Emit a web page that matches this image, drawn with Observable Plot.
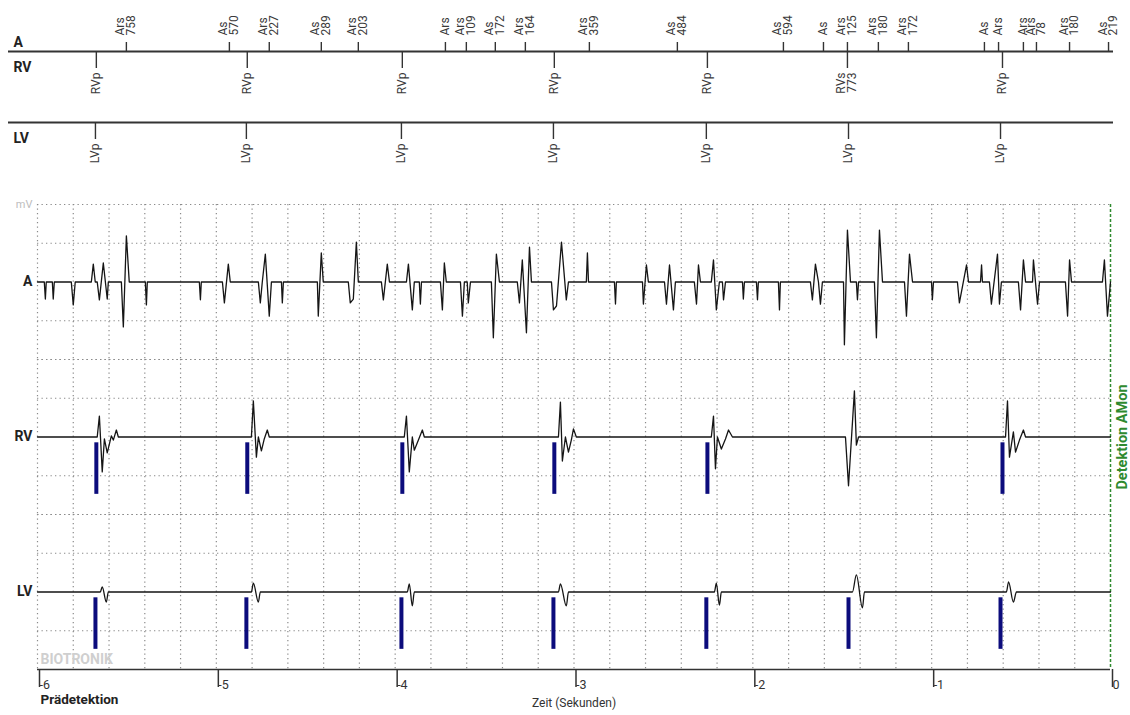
<!DOCTYPE html>
<html>
<head>
<meta charset="utf-8">
<script src="https://cdn.jsdelivr.net/npm/d3@7"></script>
<script src="https://cdn.jsdelivr.net/npm/@observablehq/plot@0.6"></script>
<style>
  html, body { margin: 0; padding: 0; background: #fff; overflow: hidden; }
  #chart { position: relative; width: 1130px; height: 715px; overflow: hidden; background: #fff; }
  #chart > svg { position: absolute; left: 0; display: block; }
</style>
</head>
<body>
<div id="chart"></div>
<script>
// ---------------- DATA ----------------
const channels = ["A", "RV", "LV"];
const timeTicks = [-6, -5, -4, -3, -2, -1, 0];          // Zeit (Sekunden)
const gridLevels = [-2, -1, 1, 2];                        // mV grid rows per channel

// Marker channel: atrial events
const aMarkerTimes = [-5.503, -4.927, -4.704, -4.413, -4.206, -3.719, -3.602, -3.440, -3.272, -2.914, -2.422,
                      -1.829, -1.605, -1.471, -1.298, -1.130, -0.705, -0.626, -0.487, -0.414, -0.229, -0.011];
const aMarkerTypes = ["Ars", "As", "Ars", "As", "Ars", "Ars", "Ars", "As", "Ars", "Ars", "As",
                      "As", "As", "Ars", "Ars", "Ars", "As", "Ars", "Ars", "Ars", "Ars", "As"];
const aMarkerIntervals = [758, 570, 227, 289, 203, null, 109, 172, 164, 359, 484,
                          594, null, 125, 180, 172, null, null, null, 78, 180, 219];

// Marker channel: right ventricle
const rvMarkerTimes = [-5.671, -4.827, -3.960, -3.110, -2.254, -1.471, -0.604];
const rvMarkerTypes = ["RVp", "RVp", "RVp", "RVp", "RVp", "RVs", "RVp"];
const rvMarkerIntervals = [null, null, null, null, null, 773, null];

// Marker channel: left ventricle
const lvMarkerTimes = [-5.676, -4.832, -3.965, -3.115, -2.260, -1.465, -0.615];
const lvMarkerTypes = ["LVp", "LVp", "LVp", "LVp", "LVp", "LVp", "LVp"];
const lvMarkerIntervals = [null, null, null, null, null, null, null];

// IEGM traces: [time (s), amplitude (mV)]
const aTrace = [
  [-6.000,0],
  [-5.962,0],[-5.956,-0.44],[-5.951,0],
  [-5.917,0],[-5.912,-0.44],[-5.906,0],
  [-5.811,0],[-5.800,-0.59],[-5.789,0],
  [-5.699,0],[-5.688,0.46],[-5.677,0],
  [-5.666,0],[-5.654,-0.46],[-5.632,0.49],[-5.610,-0.44],[-5.604,0],
  [-5.531,0],[-5.520,-1.16],[-5.503,1.19],[-5.487,0],
  [-5.397,0],[-5.391,-0.59],[-5.386,0],
  [-5.095,0],[-5.089,-0.46],[-5.084,0],
  [-4.966,0],[-4.955,-0.54],[-4.933,0.46],[-4.922,0],
  [-4.765,0],[-4.754,-0.54],[-4.743,0],[-4.726,0.72],[-4.704,-0.88],[-4.692,0],
  [-4.636,0],[-4.631,-0.54],[-4.625,0],
  [-4.435,0],[-4.430,-0.88],[-4.413,0.75],[-4.402,0],
  [-4.262,0],[-4.251,-0.54],[-4.234,-0.44],[-4.217,1.03],[-4.206,0],
  [-4.077,0],[-4.066,-0.46],[-4.044,0.46],[-4.032,0],
  [-3.937,0],[-3.926,0.46],[-3.904,-0.72],[-3.893,0],
  [-3.865,0],[-3.859,-0.57],[-3.853,0],
  [-3.747,0],[-3.736,-0.72],[-3.725,0.49],[-3.714,0],
  [-3.635,0],[-3.624,-0.88],[-3.613,0],[-3.597,0],[-3.591,-0.54],[-3.579,0],
  [-3.462,0],[-3.451,-1.44],[-3.434,0.72],[-3.417,0],
  [-3.317,0],[-3.305,-0.54],[-3.289,0.57],[-3.266,-1.31],[-3.249,0.90],[-3.238,0],
  [-3.126,0],[-3.115,-0.72],[-3.098,-0.62],[-3.070,1.03],[-3.043,-0.46],[-3.031,0],
  [-2.931,0],[-2.925,0.75],[-2.919,0],
  [-2.774,0],[-2.768,-0.57],[-2.763,0],
  [-2.617,0],[-2.612,-0.57],[-2.595,0.44],[-2.584,0],
  [-2.494,0],[-2.483,-0.57],[-2.466,0.44],[-2.444,-0.72],[-2.433,0],
  [-2.327,0],[-2.315,-0.57],[-2.304,0.44],[-2.293,0],
  [-2.232,0],[-2.220,0.57],[-2.204,-0.72],[-2.187,0],[-2.170,0],[-2.164,-0.46],[-2.153,0],
  [-2.058,0],[-2.053,-0.44],[-2.047,0],
  [-1.980,0],[-1.974,-0.46],[-1.969,0],
  [-1.857,0],[-1.851,-0.72],[-1.846,0],
  [-1.678,0],[-1.667,-0.46],[-1.650,0.46],[-1.633,0],[-1.622,-0.57],[-1.611,0],
  [-1.493,0],[-1.488,-1.62],[-1.471,1.34],[-1.454,0],
  [-1.421,0],[-1.415,-0.46],[-1.409,0],
  [-1.320,0],[-1.309,-1.44],[-1.292,1.34],[-1.275,0],
  [-1.152,0],[-1.141,-0.88],[-1.124,0.72],[-1.107,0],
  [-1.001,0],[-0.996,-0.46],[-0.990,0],
  [-0.856,0],[-0.845,-0.54],[-0.805,0.44],[-0.794,0],
  [-0.727,0],[-0.721,0.44],[-0.716,0],
  [-0.677,0],[-0.666,-0.57],[-0.632,0.72],[-0.621,-0.57],[-0.610,0],
  [-0.515,0],[-0.503,-0.72],[-0.487,0.57],[-0.475,0],
  [-0.436,0],[-0.431,0.57],[-0.408,-0.57],[-0.397,0],
  [-0.252,0],[-0.240,-0.88],[-0.229,0.57],[-0.218,0],
  [-0.045,0],[-0.034,0.57],[-0.017,-0.88],[0.000,0]
];

const rvTrace = [
  [-6.000,0],
  [-5.666,0],[-5.654,0.54],[-5.638,-0.90],[-5.626,-0.05],[-5.610,-0.41],[-5.587,0.03],[-5.576,-0.08],[-5.559,0.18],[-5.548,0],
  [-4.804,0],[-4.793,0.93],[-4.776,-0.52],[-4.765,0],[-4.748,-0.36],[-4.732,-0.05],[-4.715,0.18],[-4.704,0],
  [-3.949,0],[-3.937,0.54],[-3.921,-0.90],[-3.904,0],[-3.893,-0.34],[-3.870,-0.08],[-3.848,0.18],[-3.837,0],
  [-3.087,0],[-3.076,0.90],[-3.065,-0.62],[-3.048,0],[-3.031,-0.39],[-3.015,-0.08],[-3.003,0.21],[-2.987,0],
  [-2.232,0],[-2.220,0.54],[-2.209,-0.82],[-2.198,0],[-2.176,-0.31],[-2.153,-0.05],[-2.136,0.18],[-2.114,0],
  [-1.482,0],[-1.465,-1.26],[-1.432,1.19],[-1.421,-0.21],[-1.409,0],
  [-0.587,0],[-0.576,0.93],[-0.565,-0.52],[-0.543,0.13],[-0.531,-0.39],[-0.509,-0.08],[-0.487,0.18],[-0.475,0],
  [0.000,0]
];

const lvTrace = [
  [-6.000,0],
  [-5.649,0],[-5.638,0.13],[-5.615,-0.26],[-5.604,0],
  [-4.804,0],[-4.793,0.23],[-4.765,-0.26],[-4.754,0],
  [-3.932,0],[-3.921,0.21],[-3.904,-0.36],[-3.893,0],
  [-3.087,0],[-3.076,0.21],[-3.043,-0.36],[-3.031,0],
  [-2.215,0],[-2.204,0.23],[-2.187,-0.34],[-2.176,0],
  [-1.443,0],[-1.421,0.44],[-1.387,-0.41],[-1.376,0],
  [-0.582,0],[-0.570,0.26],[-0.543,-0.26],[-0.526,0],
  [0.000,0]
];

// ---------------- BUILD ----------------
const makeMarkers = (times, types, ints) => times.map((t, i) => ({
  t, type: types[i], label: ints[i] == null ? types[i] : types[i] + "\n" + ints[i]
}));
const aMk = makeMarkers(aMarkerTimes, aMarkerTypes, aMarkerIntervals);
const rvMk = makeMarkers(rvMarkerTimes, rvMarkerTypes, rvMarkerIntervals);
const lvMk = makeMarkers(lvMarkerTimes, lvMarkerTypes, lvMarkerIntervals);

const paces = [
  ...rvMk.filter(d => d.type.endsWith("p")).map(d => ({t: d.t, ch: "RV"})),
  ...lvMk.filter(d => d.type.endsWith("p")).map(d => ({t: d.t, ch: "LV"}))
];
const toRows = (trace, ch) => trace.map(([t, v]) => ({t, v, ch}));
const aRows = toRows(aTrace, "A"), rvRows = toRows(rvTrace, "RV"), lvRows = toRows(lvTrace, "LV");

const FONT = "Roboto, 'DejaVu Sans', sans-serif";
const xScale = {domain: [-6, 0], range: [37, 1110]};
const gridTimes = d3.ticks(-6, 0, 30).filter(t => t < 0);
const INK = "#2b2b2b", GREEN = "#2f8a2f", NAVY = "#0c0c7c";

// layout of the marker strip (pixels)
const MK = {line1: 51, line2: 122, aTickTop: 42, rvTickEnd: 68, lvTickEnd: 139,
            aText: 35, rvText: 72, lvText: 143, aLab: 42, rvLab: 67, lvLab: 138};
const labelStyle = {rotate: -90, lineAnchor: "middle", lineHeight: 0.9, fontSize: 12, fill: "#3a3a3a"};

const markerPlot = Plot.plot({
  width: 1130, height: 175,
  marginLeft: 8, marginRight: 17, marginTop: 0, marginBottom: 0,
  x: {...xScale, axis: null},
  y: {type: "identity", axis: null},
  style: {fontFamily: FONT, background: "transparent", color: INK},
  marks: [
    Plot.ruleY([MK.line1, MK.line2], {stroke: "#333", strokeWidth: 1.8}),
    Plot.ruleX(aMk, {x: "t", y1: MK.aTickTop, y2: MK.line1, stroke: "#333", strokeWidth: 1.4}),
    Plot.ruleX(rvMk, {x: "t", y1: MK.line1, y2: MK.rvTickEnd, stroke: "#333", strokeWidth: 1.4}),
    Plot.ruleX(lvMk, {x: "t", y1: MK.line2, y2: MK.lvTickEnd, stroke: "#333", strokeWidth: 1.4}),
    Plot.text(aMk, {x: "t", y: MK.aText, text: "label", textAnchor: "start", ...labelStyle}),
    Plot.text(rvMk, {x: "t", y: MK.rvText, text: "label", textAnchor: "end", ...labelStyle}),
    Plot.text(lvMk, {x: "t", y: MK.lvText, text: "label", textAnchor: "end", ...labelStyle}),
    Plot.text(["A"], {frameAnchor: "left", y: MK.aLab, dx: 5, textAnchor: "start", fontWeight: "bold", fontSize: 14, fill: "#222"}),
    Plot.text(["RV"], {frameAnchor: "left", y: MK.rvLab, dx: 5, textAnchor: "start", fontWeight: "bold", fontSize: 14, fill: "#222"}),
    Plot.text(["LV"], {frameAnchor: "left", y: MK.lvLab, dx: 5, textAnchor: "start", fontWeight: "bold", fontSize: 14, fill: "#222"})
  ]
});

const gridStyle = {stroke: "#8a8a8a", strokeOpacity: 1, strokeWidth: 1.2, strokeDasharray: "1.3,3.2"};

const egmPlot = Plot.plot({
  width: 1130, height: 540,
  marginTop: 28, marginBottom: 46, marginLeft: 37, marginRight: 20,
  x: {...xScale, axis: null},
  y: {domain: [-2, 2], axis: null},
  fy: {domain: channels, padding: 0, axis: null, label: null},
  style: {fontFamily: FONT, background: "transparent", color: INK},
  marks: [
    Plot.ruleX(gridTimes, gridStyle),
    Plot.ruleY(gridLevels, gridStyle),
    Plot.ruleX([0], {stroke: GREEN, strokeWidth: 1.5, strokeDasharray: "3,2"}),
    Plot.ruleX(paces, {x: "t", y1: -0.15, y2: -1.48, fy: "ch", stroke: NAVY, strokeWidth: 4}),
    Plot.line(aRows, {x: "t", y: "v", fy: "ch", stroke: "#151515", strokeWidth: 1.3}),
    Plot.line(rvRows, {x: "t", y: "v", fy: "ch", stroke: "#151515", strokeWidth: 1.3}),
    Plot.line(lvRows, {x: "t", y: "v", fy: "ch", stroke: "#151515", strokeWidth: 1.3, curve: "monotone-x"}),
    Plot.ruleY([{ch: "LV", v: -2}], {y: "v", fy: "ch", stroke: "#333", strokeWidth: 1.6}),
    Plot.axisX(timeTicks, {facetAnchor: "bottom", tickSize: 18, tickPadding: -7, textAnchor: "start", dx: 2,
      fontSize: 12.5, tickFormat: d => String(d), stroke: "#333", strokeWidth: 1.5, fill: "#333", label: null}),
    Plot.text(channels.map(ch => ({ch})), {fy: "ch", frameAnchor: "left", y: 0, text: "ch",
      textAnchor: "end", dx: -5, fontWeight: "bold", fontSize: 14, fill: "#222"}),
    Plot.text([{ch: "A"}], {fy: "ch", frameAnchor: "left", y: 2, text: () => "mV",
      textAnchor: "end", dx: -5, fontSize: 11, fill: "#bdbdbd"}),
    Plot.text([{ch: "LV"}], {fy: "ch", frameAnchor: "left", y: -1.75, text: () => "BIOTRONIK",
      textAnchor: "start", dx: 3, fontWeight: "bold", fontSize: 14, fill: "#cfcfcf"}),
    Plot.text([{ch: "RV", t: 0}], {fy: "ch", x: "t", y: 0, dx: 12, rotate: -90, text: () => "Detektion AMon",
      textAnchor: "middle", fontWeight: "bold", fontSize: 14.5, fill: GREEN}),
    Plot.text([{ch: "LV"}], {fy: "ch", frameAnchor: "bottom-left", text: () => "Prädetektion",
      textAnchor: "start", dx: 3, dy: 34, fontWeight: "bold", fontSize: 13.5, fill: "#222"}),
    Plot.text([{ch: "LV"}], {fy: "ch", frameAnchor: "bottom", text: () => "Zeit (Sekunden)",
      dy: 37, fontSize: 12, fill: "#333"})
  ]
});

const chart = document.getElementById("chart");
markerPlot.style.top = "0px";
egmPlot.style.top = "175px";
chart.appendChild(markerPlot);
chart.appendChild(egmPlot);
</script>
</body>
</html>
